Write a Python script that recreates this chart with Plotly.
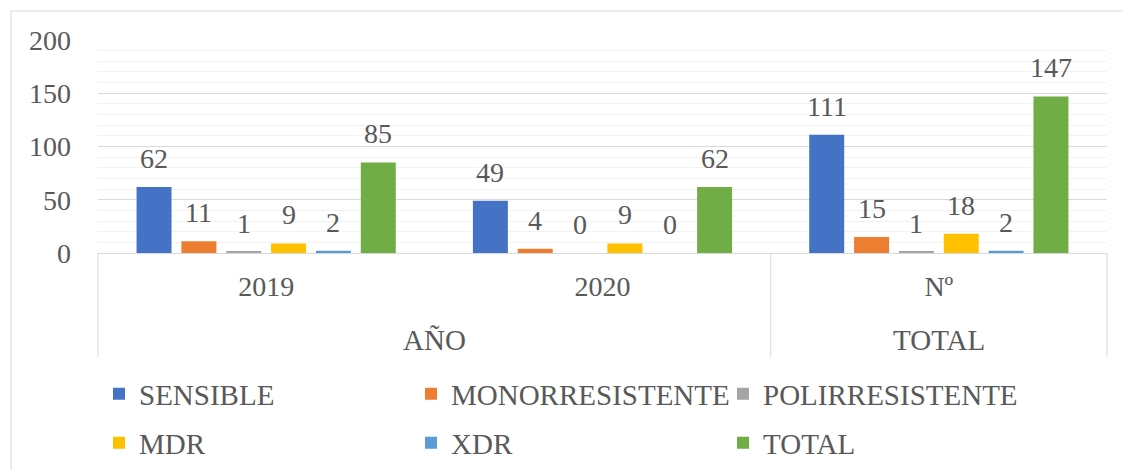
import plotly.graph_objects as go

outer_groups = ["AÑO", "AÑO", "TOTAL"]
inner_cats = ["2019", "2020", "Nº"]

series_names = ["SENSIBLE", "MONORRESISTENTE", "POLIRRESISTENTE", "MDR", "XDR", "TOTAL"]
sensible = [62, 49, 111]
monorresistente = [11, 4, 15]
polirresistente = [1, 0, 1]
mdr = [9, 9, 18]
xdr = [2, 0, 2]
total = [85, 62, 147]
colors = ["#4472C4", "#ED7D31", "#A5A5A5", "#FFC000", "#5B9BD5", "#70AD47"]

y_ticks = [0, 50, 100, 150, 200]

FONT = "Liberation Serif"
TXT = "#595959"
GRID = "#D9D9D9"

W, H = 1123, 470
L, R, T, B = 98, 16, 40, 217
pw, ph = W - L - R, H - T - B
BARGAP = 0.2


def px_x(p):
    return (p - L) / pw


def px_y(p):
    return (H - B - p) / ph


all_series = [sensible, monorresistente, polirresistente, mdr, xdr, total]
n_series = len(all_series)
n_cats = len(inner_cats)

fig = go.Figure()
annotations = []
for k, (name, vals, col) in enumerate(zip(series_names, all_series, colors)):
    fig.add_trace(go.Bar(
        name=name,
        x=inner_cats,
        y=vals,
        marker=dict(color=col, line=dict(width=0)),
        legend="legend" if k < 3 else "legend2",
        hoverinfo="skip",
    ))
    # data labels above each bar
    off = (k - (n_series - 1) / 2) * (1 - BARGAP) / n_series
    for j, v in enumerate(vals):
        annotations.append(dict(
            x=j + off, y=v, xref="x", yref="y",
            text=str(v), showarrow=False,
            yanchor="bottom", xanchor="center", yshift=11,
            font=dict(family=FONT, size=28, color=TXT),
        ))

# outer category labels and divider lines (from the group arrays)
groups = []
for j, g in enumerate(outer_groups):
    if groups and groups[-1][0] == g:
        groups[-1][2] = j
    else:
        groups.append([g, j, j])

shapes = []
for g, j0, j1 in groups:
    annotations.append(dict(
        x=((j0 + j1) / 2 + 0.5) / n_cats, y=px_y(340), xref="paper", yref="paper",
        text=g, showarrow=False, xanchor="center", yanchor="middle",
        font=dict(family=FONT, size=29, color=TXT),
    ))
bounds = [groups[0][1] - 0.5] + [j1 + 0.5 for _, _, j1 in groups]
for b in bounds:
    xp = (b + 0.5) / n_cats
    shapes.append(dict(
        type="line", xref="paper", yref="paper",
        x0=xp, x1=xp, y0=0, y1=px_y(357),
        line=dict(color=GRID, width=1),
    ))

# outer chart border
shapes.append(dict(
    type="rect", xref="paper", yref="paper",
    x0=px_x(11), x1=px_x(1140), y0=px_y(490), y1=px_y(11),
    line=dict(color=GRID, width=1), fillcolor="rgba(0,0,0,0)",
    layer="below",
))

legend_common = dict(
    orientation="h",
    xanchor="left", yanchor="middle",
    entrywidth=267, entrywidthmode="pixels",
    font=dict(family=FONT, size=29, color=TXT),
    bgcolor="rgba(0,0,0,0)",
    traceorder="normal",
)

fig.update_layout(
    width=W, height=H,
    margin=dict(l=L, r=R, t=T, b=B, autoexpand=False),
    paper_bgcolor="white",
    plot_bgcolor="white",
    barmode="group",
    bargap=BARGAP,
    bargroupgap=0.22,
    font=dict(family=FONT, size=28, color=TXT),
    showlegend=True,
    legend=dict(x=px_x(99), y=px_y(394), **legend_common),
    legend2=dict(x=px_x(99), y=px_y(443), **legend_common),
    xaxis=dict(
        type="category",
        automargin=False,
        showline=True, linecolor=GRID, linewidth=1,
        showgrid=False,
        tickfont=dict(family=FONT, size=28, color=TXT),
        ticks="",
        ticklabelstandoff=8,
    ),
    yaxis=dict(
        automargin=False,
        range=[0, 200],
        tickvals=y_ticks,
        showline=False,
        showgrid=True, gridcolor=GRID, gridwidth=1,
        minor=dict(dtick=10, showgrid=True, gridcolor="#F2F2F2", gridwidth=1),
        zeroline=False,
        tickfont=dict(family=FONT, size=28, color=TXT),
        ticks="",
        ticklabelstandoff=26,
    ),
    annotations=annotations,
    shapes=shapes,
)

fig.write_html(
    "out.html",
    config={"displayModeBar": False},
    post_script="document.body.style.margin='0';",
)
